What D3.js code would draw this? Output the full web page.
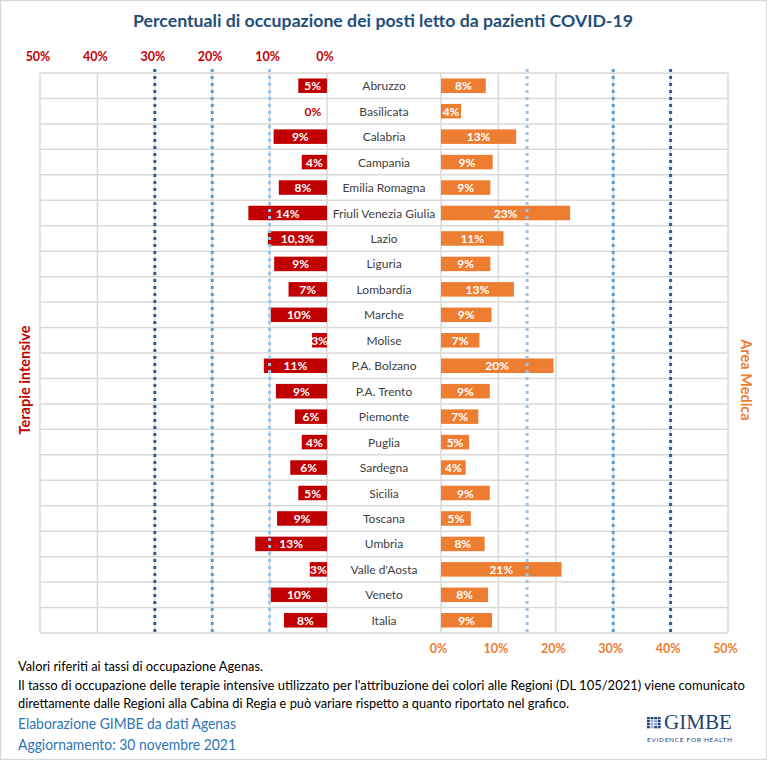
<!DOCTYPE html>
<html>
<head>
<meta charset="utf-8">
<script src="https://cdn.jsdelivr.net/npm/d3@7"></script>
<style>
  html, body { margin: 0; padding: 0; background: #fff; }
  svg { display: block; font-family: Lato, "Open Sans", sans-serif; }
</style>
</head>
<body>
<svg id="chart" width="767" height="760"></svg>
<script>
// regions, in display order
const regions = ['Abruzzo', 'Basilicata', 'Calabria', 'Campania', 'Emilia Romagna',
  'Friuli Venezia Giulia', 'Lazio', 'Liguria', 'Lombardia', 'Marche', 'Molise',
  'P.A. Bolzano', 'P.A. Trento', 'Piemonte', 'Puglia', 'Sardegna', 'Sicilia',
  'Toscana', 'Umbria', "Valle d'Aosta", 'Veneto', 'Italia'];

// terapie intensive (%)
const tiValues = [5.0, 0, 9.3, 4.4, 8.4, 13.7, 10.3, 9.2, 6.7, 9.8, 2.6,
  11.0, 8.9, 5.6, 4.4, 6.4, 5.0, 8.7, 12.5, 3.0, 9.8, 7.5];
const tiLabels = ['5%', '0%', '9%', '4%', '8%', '14%', '10,3%', '9%', '7%', '10%', '3%',
  '11%', '9%', '6%', '4%', '6%', '5%', '9%', '13%', '3%', '10%', '8%'];

// area medica (%)
const amValues = [7.8, 3.5, 13.1, 9.0, 8.6, 22.5, 10.9, 8.6, 12.7, 8.8, 6.7,
  19.6, 8.5, 6.5, 4.9, 4.3, 8.5, 5.2, 7.6, 21.0, 8.2, 8.9];
const amLabels = ['8%', '4%', '13%', '9%', '9%', '23%', '11%', '9%', '13%', '9%', '7%',
  '20%', '9%', '7%', '5%', '4%', '9%', '5%', '8%', '21%', '8%', '9%'];

const ticks = [0, 10, 20, 30, 40, 50];
// threshold lines
const tiThresholds = [10, 20, 30];
const amThresholds = [15, 30, 40];

const notes = [
  'Valori riferiti ai tassi di occupazione Agenas.',
  "Il tasso di occupazione delle terapie intensive utilizzato per l'attribuzione dei colori alle Regioni (DL 105/2021) viene comunicato",
  'direttamente dalle Regioni alla Cabina di Regia e può variare rispetto a quanto riportato nel grafico.'
];
const credits = ['Elaborazione GIMBE da dati Agenas', 'Aggiornamento: 30 novembre 2021'];

const RED = '#C00000';
const ORANGE = '#ED7D31';
const BLUE = '#1F4E79';
const GRID = '#D9D9D9';
const thrColors = ['#9DC3E6', '#5B9BD5', '#2E5D9A'];

const svg = d3.select('#chart');
const plotTop = 73, plotBottom = 633;

const xL = d3.scaleLinear().domain([0, 50]).range([327, 40]);
const xR = d3.scaleLinear().domain([0, 50]).range([441, 728]);
const y = d3.scaleBand().domain(regions).range([plotTop, plotBottom]);
const barH = y.bandwidth() * 0.57;
const barY = (r) => y(r) + (y.bandwidth() - barH) / 2;

const rows = regions.map((r, i) => ({ r, ti: tiValues[i], am: amValues[i], tiL: tiLabels[i], amL: amLabels[i] }));

// outer frame of image
svg.append('rect').attr('x', 0.5).attr('y', 0.5).attr('width', 766).attr('height', 759)
  .attr('fill', 'none').attr('stroke', GRID).attr('stroke-width', 1.5);

// title
svg.append('text').attr('x', 383).attr('y', 27).attr('text-anchor', 'middle')
  .attr('font-size', 17.5).attr('font-weight', 700).attr('fill', BLUE)
  .attr('textLength', 500).attr('lengthAdjust', 'spacingAndGlyphs')
  .text('Percentuali di occupazione dei posti letto da pazienti COVID-19');

// grid
const grid = svg.append('g').attr('stroke', GRID).attr('stroke-width', 1.5);
grid.selectAll('.hl').data(regions.concat(['__end'])).join('line')
  .attr('x1', xL(50)).attr('x2', xR(50))
  .attr('y1', (d) => (d === '__end' ? plotBottom : y(d)))
  .attr('y2', (d) => (d === '__end' ? plotBottom : y(d)));
grid.selectAll('.vl').data(ticks).join('line')
  .attr('x1', (d) => xL(d)).attr('x2', (d) => xL(d)).attr('y1', plotTop).attr('y2', plotBottom);
grid.selectAll('.vr').data(ticks).join('line')
  .attr('x1', (d) => xR(d)).attr('x2', (d) => xR(d)).attr('y1', plotTop).attr('y2', plotBottom);

// bars
svg.append('g').selectAll('rect').data(rows).join('rect')
  .attr('x', (d) => xL(d.ti)).attr('width', (d) => xL(0) - xL(d.ti))
  .attr('y', (d) => barY(d.r)).attr('height', barH).attr('fill', RED);
svg.append('g').selectAll('rect').data(rows).join('rect')
  .attr('x', xR(0)).attr('width', (d) => xR(d.am) - xR(0))
  .attr('y', (d) => barY(d.r)).attr('height', barH).attr('fill', ORANGE);

// threshold dotted lines
const thr = svg.append('g').attr('stroke-width', 3).attr('stroke-dasharray', '3,4');
thr.selectAll('.tl').data(tiThresholds).join('line')
  .attr('x1', (d) => xL(d)).attr('x2', (d) => xL(d)).attr('y1', plotTop - 4).attr('y2', plotBottom)
  .attr('stroke', (d, i) => thrColors[i]);
thr.selectAll('.tr').data(amThresholds).join('line')
  .attr('x1', (d) => xR(d)).attr('x2', (d) => xR(d)).attr('y1', plotTop - 4).attr('y2', plotBottom)
  .attr('stroke', (d, i) => thrColors[i]);

// bar labels
const lab = svg.append('g').attr('font-size', 12).attr('font-weight', 700).attr('text-anchor', 'middle');
lab.selectAll('.lt').data(rows).join('text')
  .attr('x', (d) => (d.ti > 0 ? (xL(d.ti) + xL(0)) / 2 : xL(0) - 14))
  .attr('y', (d) => y(d.r) + y.bandwidth() / 2 + 4.5)
  .attr('fill', (d) => (d.ti > 0 ? '#fff' : RED))
  .text((d) => d.tiL);
lab.selectAll('.lr').data(rows).join('text')
  .attr('x', (d) => (xR(d.am) + xR(0)) / 2)
  .attr('y', (d) => y(d.r) + y.bandwidth() / 2 + 4.5)
  .attr('fill', '#fff')
  .text((d) => d.amL);

// region names
svg.append('g').selectAll('text').data(regions).join('text')
  .attr('x', (xL(0) + xR(0)) / 2).attr('y', (d) => y(d) + y.bandwidth() / 2 + 4.5)
  .attr('text-anchor', 'middle').attr('font-size', 12).attr('fill', '#404040')
  .text((d) => d);

// axes
const fmt = (d) => d + '%';
const axTop = svg.append('g').attr('transform', 'translate(-2.5,57)')
  .call(d3.axisTop(xL).tickValues(ticks).tickFormat(fmt).tickSize(0).tickPadding(0));
axTop.select('.domain').remove();
axTop.selectAll('text').attr('fill', RED).attr('font-size', 12.5).attr('font-weight', 700)
  .attr('font-family', 'Lato, sans-serif').attr('dy', '0.35em');

const axBot = svg.append('g').attr('transform', 'translate(-3,649)')
  .call(d3.axisBottom(xR).tickValues(ticks).tickFormat(fmt).tickSize(0).tickPadding(0));
axBot.select('.domain').remove();
axBot.selectAll('text').attr('fill', ORANGE).attr('font-size', 12.5).attr('font-weight', 700)
  .attr('font-family', 'Lato, sans-serif').attr('dy', '0.35em');

// side titles
svg.append('text').attr('transform', 'translate(30,380) rotate(-90)')
  .attr('text-anchor', 'middle').attr('font-size', 14.5).attr('font-weight', 700).attr('fill', RED)
  .text('Terapie intensive');
svg.append('text').attr('transform', 'translate(741,380) rotate(90)')
  .attr('text-anchor', 'middle').attr('font-size', 14.5).attr('font-weight', 700).attr('fill', ORANGE)
  .text('Area Medica');

// footnotes
const noteY = [671, 690, 708];
const noteW = [245, 727, 551];
svg.append('g').selectAll('text').data(notes).join('text')
  .attr('x', 18).attr('y', (d, i) => noteY[i]).attr('font-size', 13).attr('fill', '#000')
  .attr('textLength', (d, i) => noteW[i]).attr('lengthAdjust', 'spacingAndGlyphs')
  .text((d) => d);
const creditY = [729, 750];
svg.append('g').selectAll('text').data(credits).join('text')
  .attr('x', 18).attr('y', (d, i) => creditY[i]).attr('font-size', 15).attr('fill', '#2E75B6')
  .attr('textLength', 218).attr('lengthAdjust', 'spacingAndGlyphs')
  .text((d) => d);

// GIMBE logo
const logo = svg.append('g').attr('transform', 'translate(647,717)');
const cells = d3.range(16).map((i) => ({ c: i % 4, r: Math.floor(i / 4) }));
const checked = new Set([5, 6, 9, 10, 13]);
logo.selectAll('rect').data(cells).join('rect')
  .attr('x', (d) => d.c * 3.6).attr('y', (d) => d.r * 3)
  .attr('width', 2.8).attr('height', 2.3)
  .attr('fill', (d, i) => (checked.has(i) ? '#8fa8cf' : '#1F3F7A'));
logo.append('text').attr('x', 17).attr('y', 12).attr('font-family', '"Liberation Serif", "DejaVu Serif", serif')
  .attr('font-size', 20).attr('fill', '#1F3F7A').attr('textLength', 68).attr('lengthAdjust', 'spacingAndGlyphs')
  .text('GIMBE');
logo.append('text').attr('x', 0).attr('y', 25).attr('font-size', 6.5).attr('fill', '#1F3F7A')
  .attr('textLength', 85).attr('lengthAdjust', 'spacing')
  .text('EVIDENCE FOR HEALTH');
</script>
</body>
</html>
